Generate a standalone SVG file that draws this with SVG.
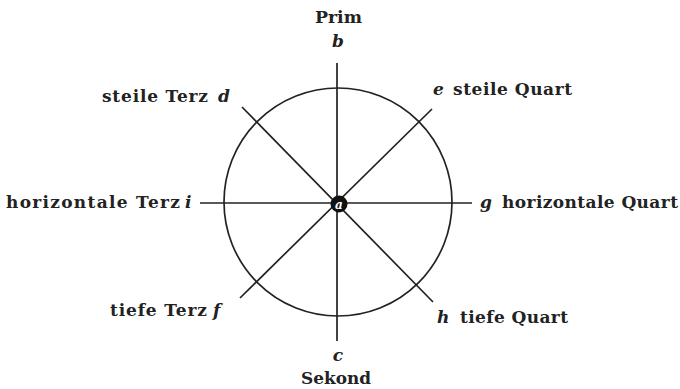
<svg xmlns="http://www.w3.org/2000/svg" width="680" height="389" viewBox="0 0 680 389">
<style>
.w{font-family:"DejaVu Serif","Liberation Serif",serif;font-weight:bold;font-size:17px;fill:#222}
.l{font-family:"DejaVu Serif","Liberation Serif",serif;font-weight:bold;font-style:italic;font-size:17px;fill:#222}
.ln{stroke:#222;stroke-width:1.7;fill:none}
</style>
<rect width="680" height="389" fill="#fff"/>
<g id="connectors">
<circle class="ln" cx="338" cy="202" r="114"/>
<line class="ln" x1="337" y1="63" x2="337" y2="341"/>
<line class="ln" x1="200" y1="203" x2="472" y2="203"/>
<line class="ln" x1="242" y1="107" x2="433" y2="302"/>
<line class="ln" x1="432" y1="109" x2="240" y2="298"/>
</g>
<g id="a">
<circle cx="339" cy="204" r="8.5" fill="#111"/>
<text x="339" y="209" text-anchor="middle" font-family="DejaVu Serif, serif" font-style="italic" font-weight="bold" font-size="12" fill="#fff">a</text>
</g>
<g id="b">
<text class="w" x="315" y="23" textLength="47" lengthAdjust="spacingAndGlyphs">Prim</text>
<text class="l" x="338" y="47" text-anchor="middle">b</text>
</g>
<g id="c">
<text class="l" x="338" y="361" text-anchor="middle">c</text>
<text class="w" x="301" y="384" textLength="70" lengthAdjust="spacingAndGlyphs">Sekond</text>
</g>
<g id="d">
<text class="w" x="102" y="102" textLength="106" lengthAdjust="spacing">steile Terz</text>
<text class="l" x="218" y="102">d</text>
</g>
<g id="e">
<text class="l" x="433" y="95">e</text>
<text class="w" x="453" y="95" textLength="119" lengthAdjust="spacing">steile Quart</text>
</g>
<g id="i">
<text class="w" x="6" y="208" textLength="174" lengthAdjust="spacing">horizontale Terz</text>
<text class="l" x="185" y="208">i</text>
</g>
<g id="g">
<text class="l" x="480" y="208">g</text>
<text class="w" x="502" y="208" textLength="176" lengthAdjust="spacing">horizontale Quart</text>
</g>
<g id="f">
<text class="w" x="110" y="316" textLength="97" lengthAdjust="spacing">tiefe Terz</text>
<text class="l" x="213" y="316">f</text>
</g>
<g id="h">
<text class="l" x="437" y="323">h</text>
<text class="w" x="460" y="323" textLength="108" lengthAdjust="spacing">tiefe Quart</text>
</g>
</svg>
